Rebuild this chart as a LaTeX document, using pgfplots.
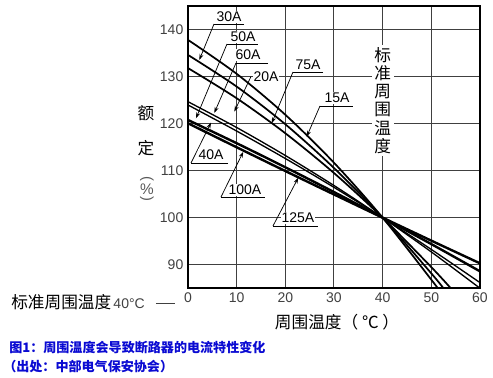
\documentclass[border=0pt]{standalone}
\usepackage{pgfplots}
\pgfplotsset{compat=1.18}
\usepackage{fontspec}
\setmainfont{Liberation Sans}
\newfontfamily\cjk{Noto Sans CJK SC}
\usetikzlibrary{arrows.meta}
\definecolor{capblue}{RGB}{10,10,210}
\begin{document}
\begin{tikzpicture}[
  lab/.style={font=\fontsize{10.5}{11}\selectfont, fill=white, inner sep=0.6pt},
  ld/.style={line width=0.55pt},
  la/.style={line width=0.55pt, -{Stealth[length=4.5pt,width=3pt]}},
]
\useasboundingbox (0,0) rectangle (369.75pt,-283.5pt);
\begin{axis}[
  at={(141pt,-216.2pt)}, anchor=south west,
  scale only axis, width=219pt, height=211.7pt,
  xmin=0, xmax=60, ymin=85, ymax=145,
  xtick={0,10,...,60}, ytick={90,100,...,140},
  grid=major, major grid style={black!75, line width=0.75pt},
  axis line style={line width=1.5pt},
  tick style={draw=none},
  ticklabel style={font=\fontsize{10.5}{11}\selectfont, text=black!75},
  /pgf/number format/assume math mode=true,
]
% upper group
\addplot[smooth, line width=1.3pt] coordinates {(0,137.8) (10,130.58) (20,121.88) (30,111.68) (40,100) (50,86.82) (51.3,85)};
\addplot[smooth, line width=1.3pt] coordinates {(0,134.6) (10,127.87) (20,119.86) (30,110.56) (40,100) (50,88.16) (52.5,85)};
\addplot[smooth, line width=1.3pt] coordinates {(0,131.8) (10,125.39) (20,117.95) (30,109.49) (40,100) (50,89.49) (54,85)};
% lower group
\addplot[smooth, line width=1.0pt] coordinates {(0,124.66) (10,119.17) (20,113.22) (30,106.84) (40,100) (50,92.72) (60,85.0)};
\addplot[smooth, line width=1.0pt] coordinates {(0,123.96) (10,118.42) (20,112.58) (30,106.45) (40,100) (50,93.25) (60,86.2)};
\addplot[smooth, line width=1.8pt] coordinates {(0,120.77) (10,115.83) (20,110.72) (30,105.45) (40,100) (50,94.39) (60,88.6)};
\addplot[smooth, line width=1.8pt] coordinates {(0,120.07) (10,114.97) (20,109.92) (30,104.94) (40,100) (50,95.12) (60,90.3)};
% vertical label at 40
\node[fill=white, inner sep=2pt, font=\cjk\fontsize{12.5}{13.6}\selectfont, align=center, anchor=north] at (axis cs:40,136.8) {标\\准\\周\\围\\温\\度};
% 30A
\draw[ld] (axis cs:11.51,141.17) -- (axis cs:5.34,141.17);
\draw[la] (axis cs:5.34,141.17) -- (axis cs:2.32,133.52);
\node[lab] at (axis cs:8.42,142.66) {30A};
% 50A
\draw[ld] (axis cs:14.38,136.92) -- (axis cs:8.01,136.92);
\draw[la] (axis cs:8.01,136.92) -- (axis cs:1.64,121.13);
\node[lab] at (axis cs:11.30,138.41) {50A};
% 60A
\draw[ld] (axis cs:16.44,132.89) -- (axis cs:9.86,132.89);
\draw[la] (axis cs:9.86,132.89) -- (axis cs:5.40,122.26);
\node[lab] at (axis cs:12.33,134.59) {60A};
% 20A
\draw[la] (axis cs:12.94,130.0) -- (axis cs:9.51,122.53);
\node[lab] at (axis cs:16.03,130.0) {20A};
% 75A
\draw[ld] (axis cs:27.74,130.97) -- (axis cs:21.57,130.97);
\draw[la] (axis cs:21.57,130.97) -- (axis cs:17.20,120.07);
\node[lab] at (axis cs:24.66,132.46) {75A};
% 15A
\draw[ld] (axis cs:33.90,123.75) -- (axis cs:27.12,123.75);
\draw[la] (axis cs:27.12,123.75) -- (axis cs:24.39,117.22);
\node[lab] at (axis cs:30.61,125.45) {15A};
% 40A
\draw[ld] (axis cs:8.22,111.63) -- (axis cs:0.62,111.63);
\draw[la] (axis cs:0.62,111.63) -- (axis cs:4.73,120.22);
\node[lab] at (axis cs:4.73,113.33) {40A};
% 100A
\draw[ld] (axis cs:15.82,104.4) -- (axis cs:6.78,104.4);
\draw[la] (axis cs:6.78,104.4) -- (axis cs:11.36,114.02);
\node[lab] at (axis cs:11.71,105.89) {100A};
% 125A
\draw[ld] (axis cs:26.71,98.24) -- (axis cs:17.46,98.24);
\draw[la] (axis cs:17.46,98.24) -- (axis cs:22.66,108.5);
\node[lab] at (axis cs:22.60,99.94) {125A};
\end{axis}
\begin{scope}[x=0.75pt, y=-0.75pt]
% y label
\node[font=\cjk\fontsize{12.5}{13}\selectfont] at (146,113) {额};
\node[font=\cjk\fontsize{12.5}{13}\selectfont] at (146,148) {定};
\node[font=\fontsize{11}{12}\selectfont, text=black!65, inner sep=0pt] at (147,179) {\rotatebox{-90}{(}};
\node[font=\fontsize{11.5}{12}\selectfont, text=black!65, inner sep=0pt] at (147,189) {\%};
\node[font=\fontsize{11}{12}\selectfont, text=black!65, inner sep=0pt] at (147,199) {\rotatebox{-90}{)}};
% bottom-left label
\node[anchor=west, inner sep=0pt] at (11,302) {{\cjk\fontsize{12.5}{13}\selectfont 标准周围温度}\,{\fontsize{10.5}{11}\selectfont\color{black!75}40°C\hspace{0.8em}\rule[0.3em]{14pt}{0.6pt}}};
% x label
\node[font=\cjk\fontsize{12.5}{13}\selectfont, inner sep=0pt] at (337,322) {周围温度（ ℃ ）};
% caption
\node[anchor=west, inner sep=0pt, font=\cjk\bfseries\fontsize{9.8}{11}\selectfont, text=capblue] at (9,348) {图1：周围温度会导致断路器的电流特性变化};
\node[anchor=west, inner sep=0pt, font=\cjk\bfseries\fontsize{9.8}{11}\selectfont, text=capblue] at (3,367) {（出处：中部电气保安协会）};
\end{scope}
\end{tikzpicture}
\end{document}
